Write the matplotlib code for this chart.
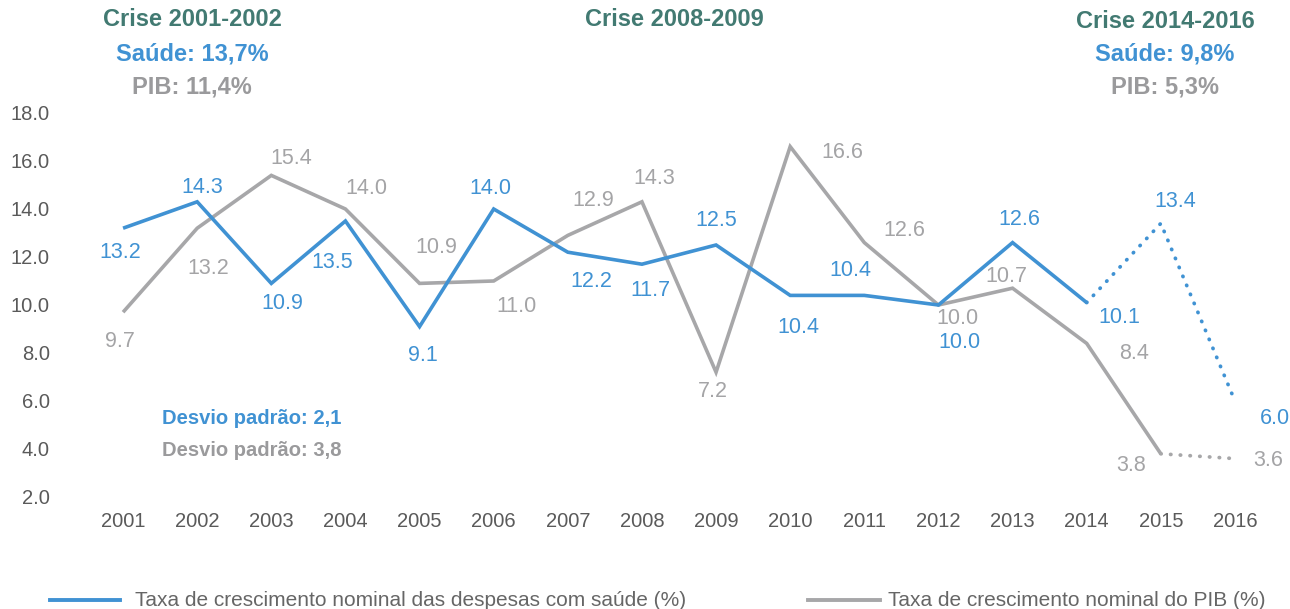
import numpy as np
import matplotlib.pyplot as plt
from matplotlib.lines import Line2D

plt.rcParams['font.family'] = ['Liberation Sans', 'DejaVu Sans']

years = list(range(2001, 2017))
saude = [13.2, 14.3, 10.9, 13.5, 9.1, 14.0, 12.2, 11.7, 12.5, 10.4, 10.4, 10.0, 12.6, 10.1, 13.4, 6.0]
pib = [9.7, 13.2, 15.4, 14.0, 10.9, 11.0, 12.9, 14.3, 7.2, 16.6, 12.6, 10.0, 10.7, 8.4, 3.8, 3.6]

# last year with observed data, the rest is projection (dotted)
saude_last_obs = 2014
pib_last_obs = 2015

yticks = [2.0, 4.0, 6.0, 8.0, 10.0, 12.0, 14.0, 16.0, 18.0]

legend_saude = "Taxa de crescimento nominal das despesas com saúde (%)"
legend_pib = "Taxa de crescimento nominal do PIB (%)"

# label offsets in pixels (dx, dy) for each point, dy positive = below
saude_off = [(-3, 24), (5, -14), (11, 20), (-13, 42), (3, 29), (-3, -21), (23, 29), (8, 26),
             (0, -25), (8, 32), (-14, -25), (21, 37), (7, -23), (33, 15), (14, -22), (40, 17)]
pib_off = [(-3, 29), (11, 40), (20, -17), (21, -20), (17, -36), (23, 26), (25, -35), (12, -23),
           (-3, 19), (52, 6), (40, -12), (19, 14), (-6, -12), (47, 10), (-30, 12), (33, 2)]

BLUE = '#4092d3'
GRAY = '#a7a7a9'
GRAY_TXT = '#a4a4a6'
TEAL = '#427a72'
TICK = '#5a5a5a'

W, H = 1290, 609
fig = plt.figure(figsize=(W / 100, H / 100), dpi=100)
ax = fig.add_axes([86 / W, (H - 497) / H, (1272 - 86) / W, (497 - 113) / H])


def fx(px):
    return px / W


def fy(py):
    return 1 - py / H


def split_plot(vals, last, color):
    i = years.index(last)
    ax.plot(years[:i + 1], vals[:i + 1], color=color, lw=2.6, solid_capstyle='butt',
            solid_joinstyle='miter')
    ax.plot(years[i:], vals[i:], color=color, lw=2.7, linestyle=(0, (0.1, 2.5)),
            dash_capstyle='round')


split_plot(pib, pib_last_obs, GRAY)
split_plot(saude, saude_last_obs, BLUE)

for x, v, (dx, dy) in zip(years, saude, saude_off):
    ax.annotate(f"{v:.1f}", (x, v), xytext=(dx, -dy), textcoords='offset pixels',
                ha='center', va='center', fontsize=15.5, color=BLUE)
for x, v, (dx, dy) in zip(years, pib, pib_off):
    ax.annotate(f"{v:.1f}", (x, v), xytext=(dx, -dy), textcoords='offset pixels',
                ha='center', va='center', fontsize=15.5, color=GRAY_TXT)

ax.set_xlim(2000.5, 2016.5)
ax.set_ylim(2, 18)
ax.set_xticks(years)
ax.set_xticklabels([str(y) for y in years])
ax.set_yticks(yticks)
ax.set_yticklabels([f"{t:.1f}" for t in yticks])
ax.tick_params(axis='both', length=0, labelsize=14.5, colors=TICK)
ax.tick_params(axis='y', pad=26)
ax.tick_params(axis='x', pad=11)
for s in ax.spines.values():
    s.set_visible(False)

# crisis notes at the top
notes = [
    (192, [("Crise 2001-2002", TEAL, 20), ("Saúde: 13,7%", BLUE, 54), ("PIB: 11,4%", '#9a9a9c', 87)]),
    (674, [("Crise 2008-2009", TEAL, 20)]),
    (1165, [("Crise 2014-2016", TEAL, 21), ("Saúde: 9,8%", BLUE, 54), ("PIB: 5,3%", '#9a9a9c', 87)]),
]
for cx, lines in notes:
    for txt, col, cy in lines:
        fig.text(fx(cx), fy(cy), txt, ha='center', va='center', fontsize=17,
                 fontweight='bold', color=col)

fig.text(fx(162), fy(418), "Desvio padrão: 2,1", ha='left', va='center', fontsize=14.5,
         fontweight='bold', color=BLUE)
fig.text(fx(162), fy(450), "Desvio padrão: 3,8", ha='left', va='center', fontsize=14.5,
         fontweight='bold', color='#9a9a9c')

# legend along the bottom edge
fig.add_artist(Line2D([fx(50), fx(120)], [fy(600), fy(600)], color=BLUE, lw=2.8))
fig.text(fx(135), fy(600), legend_saude, ha='left', va='center', fontsize=15, color='#666666')
fig.add_artist(Line2D([fx(808), fx(880)], [fy(600), fy(600)], color=GRAY, lw=2.8))
fig.text(fx(888), fy(600), legend_pib, ha='left', va='center', fontsize=15, color='#666666')

fig.savefig("out.png", dpi=100)
